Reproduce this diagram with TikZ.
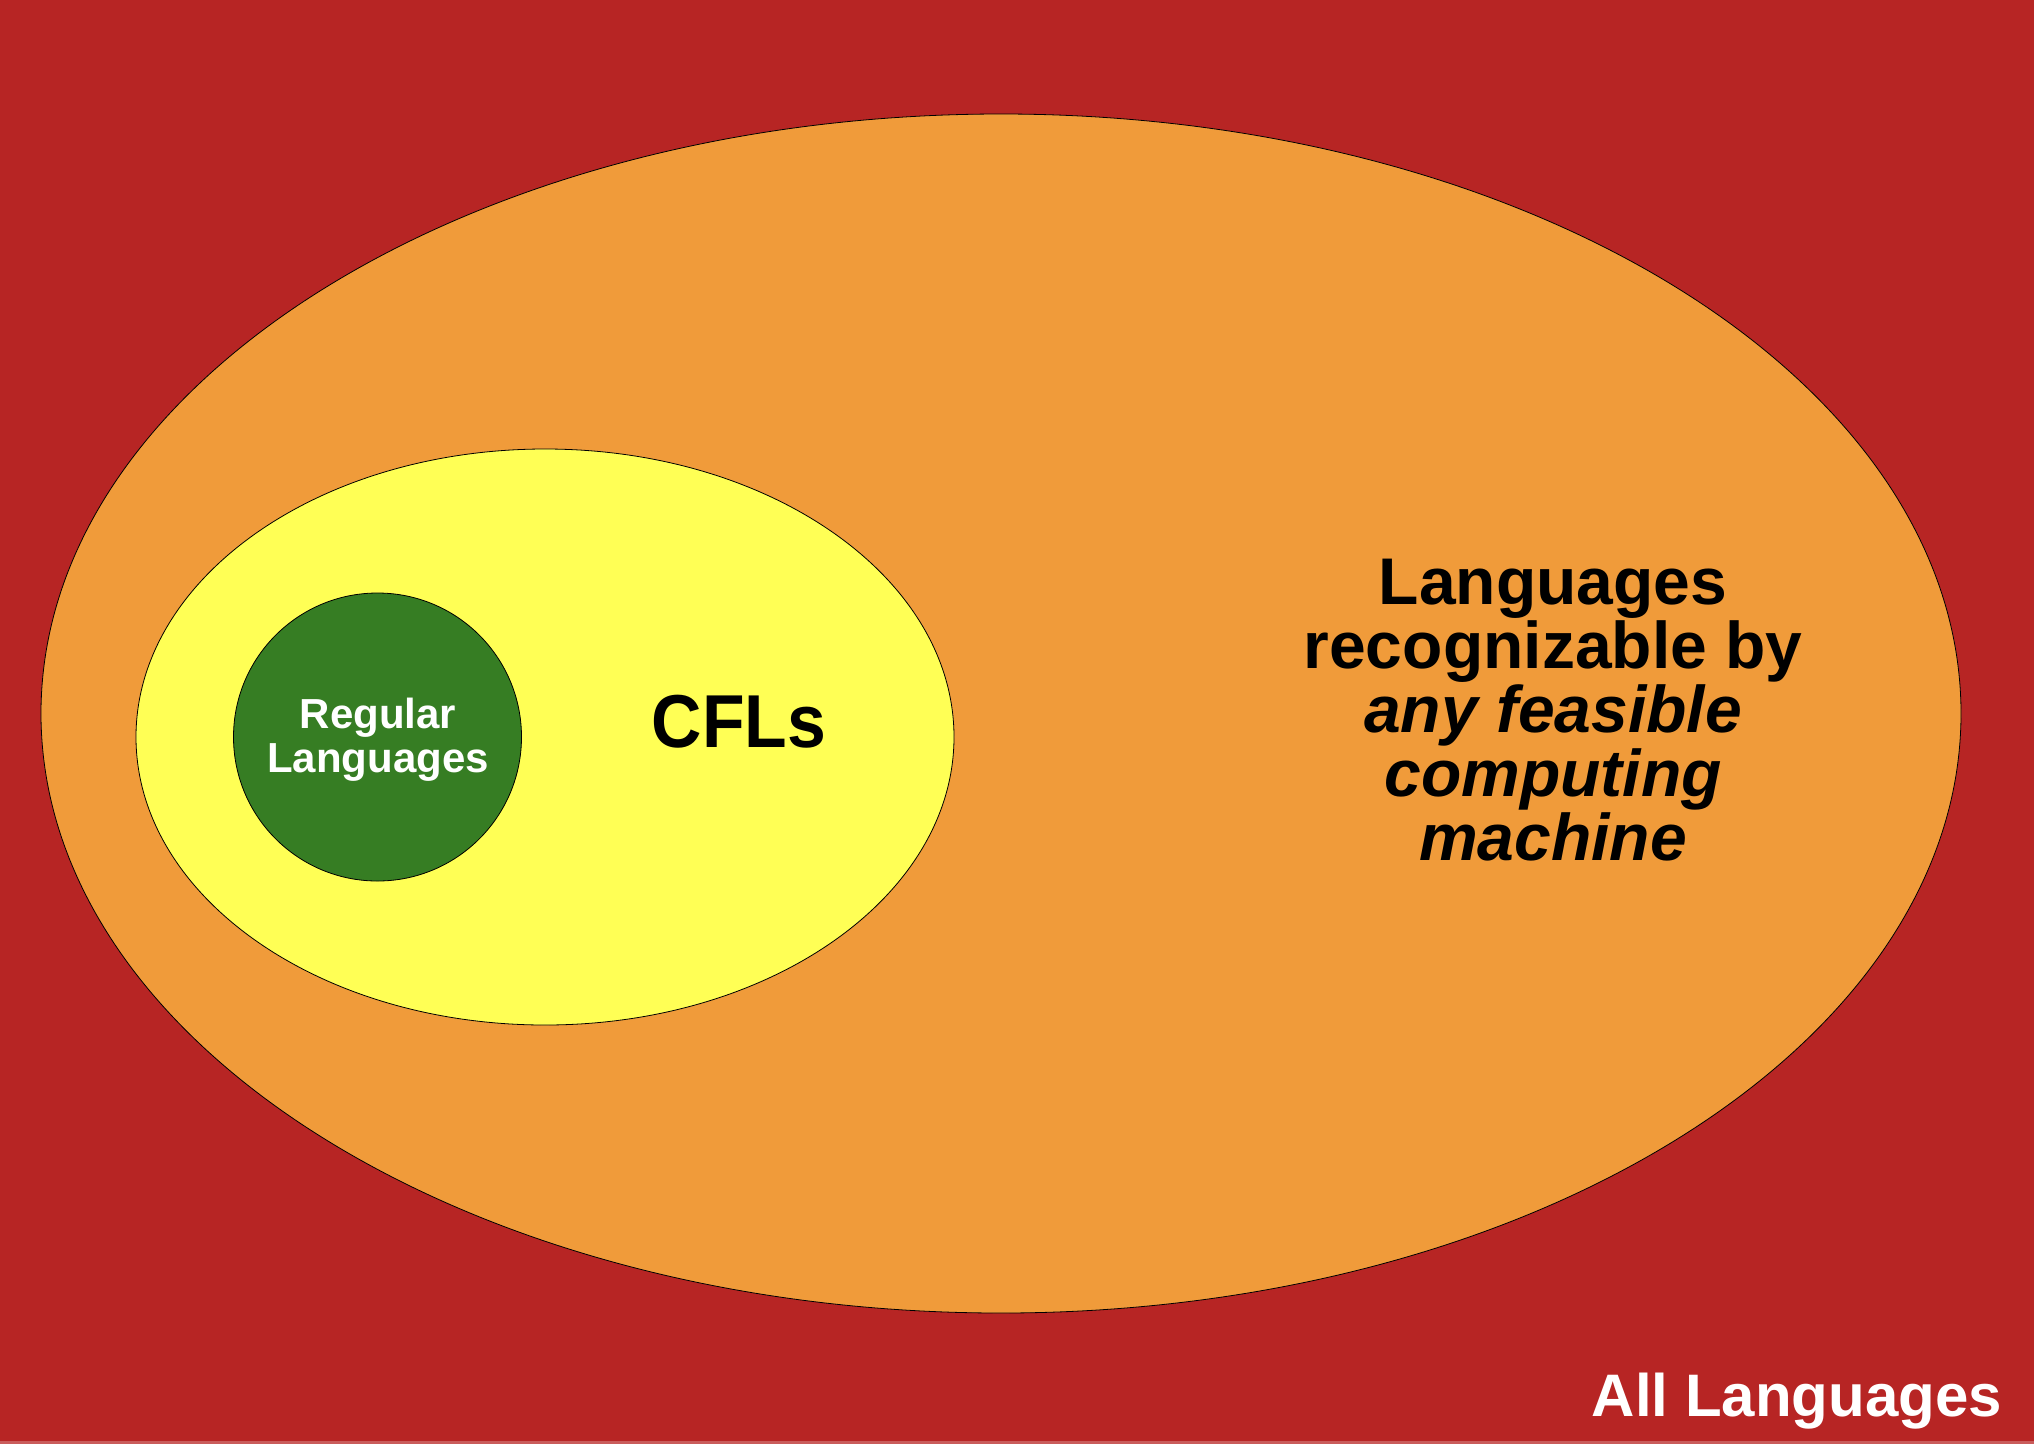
\documentclass[tikz,border=0pt]{standalone}
\usepackage{fontspec}
\setmainfont{Liberation Sans}
\newfontfamily\narrowsans[FakeStretch=0.93]{Liberation Sans}
\usetikzlibrary{shapes.geometric}
\definecolor{bgred}{RGB}{183,37,36}
\definecolor{orng}{RGB}{240,155,58}
\definecolor{yel}{RGB}{255,255,85}
\definecolor{grn}{RGB}{54,125,35}
\tikzset{
  region/.style={ellipse, draw=black, line width=0.8pt, inner sep=0pt},
  lbl/.style={inner sep=0pt, align=center, font=\bfseries},
}
\begin{document}
\begin{tikzpicture}[x=1pt,y=-1pt]
\useasboundingbox (0,0) rectangle (2034,1444);
\fill[white] (0,0) rectangle (2034,1444);
\fill[bgred] (0,0) rectangle (2034,1441);
\fill[bgred!75!white] (0,1441) rectangle (2034,1444);
\node[region, fill=orng, minimum width=1920pt, minimum height=1199pt] (all) at (1001,713.5) {};
\node[region, fill=yel, minimum width=818pt, minimum height=576pt] (cfl) at (545,737) {};
\node[region, circle, fill=grn, minimum size=288pt] (reg) at (377.5,737) {};
\node[lbl, text=white, font=\bfseries\fontsize{42}{44}\selectfont, anchor=base] (regt) at (378,772) {Regular\\Languages};
\node[lbl, font=\narrowsans\bfseries\fontsize{75}{80}\selectfont, anchor=base] (cflt) at (739,747) {CFLs};
\node[lbl, font=\bfseries\fontsize{66}{64}\selectfont, anchor=base] (feas) at (1553,860) {Languages\\recognizable by\\\textit{any feasible}\\\textit{computing}\\\textit{machine}};
\node[lbl, text=white, font=\bfseries\fontsize{60}{64}\selectfont, anchor=base] (allt) at (1797,1416) {All Languages};
\end{tikzpicture}
\end{document}
